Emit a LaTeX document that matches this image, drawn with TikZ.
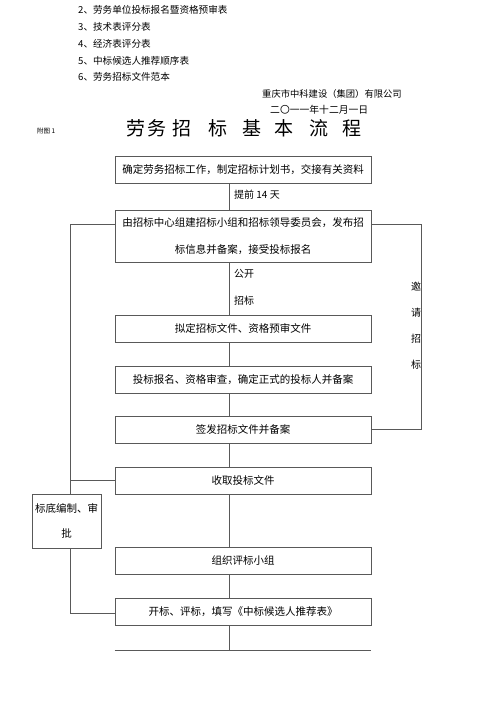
\documentclass[tikz,border=0pt]{standalone}
\usepackage{fontspec}
\setmainfont{Noto Sans CJK SC}
\usetikzlibrary{positioning}

\begin{document}
\begin{tikzpicture}[
  x=1pt, y=-1pt,
  box/.style={draw=black!65, line width=0.8pt, align=center, inner sep=0pt,
    minimum width=256pt, minimum height=27pt, font=\fontsize{10.5}{26.7}\selectfont},
  sidebox/.style={draw=black!65, line width=0.8pt, align=center, inner sep=0pt,
    minimum width=69pt, minimum height=54pt, font=\fontsize{10.5}{25}\selectfont},
  link/.style={draw=black!65, line width=0.8pt},
  note/.style={anchor=west, inner sep=0pt, font=\fontsize{10}{12}\selectfont},
  item/.style={anchor=west, inner sep=0pt, font=\fontsize{9.6}{11}\selectfont}
]
\useasboundingbox (0,0) rectangle (500,706);
% header list
\foreach \n/\txt/\y in {2/劳务单位投标报名暨资格预审表/10, 3/技术表评分表/27,
    4/经济表评分表/44, 5/中标候选人推荐顺序表/61, 6/劳务招标文件范本/77}
  \node[item] (item\n) at (78,\y) {\n、\txt};
\node[item, font=\fontsize{9.3}{11}\selectfont] (company) at (262,94) {重庆市中科建设（集团）有限公司};
\node[item, font=\fontsize{9.8}{11}\selectfont] (date) at (270,110) {二〇一一年十二月一日};
\node[item, font=\fontsize{6.5}{8}\selectfont] (fig) at (37,131) {附图 1};
\node[anchor=west, inner sep=0pt, font=\fontsize{19}{22}\selectfont] (title) at (126,128)
  {劳\hspace{2pt}务\hspace{6pt}招\hspace{17pt}标\hspace{15pt}基\hspace{13pt}本\hspace{16pt}流\hspace{14pt}程};
% main column
\node[box] (b1) at (243,170) {确定劳务招标工作，制定招标计划书，交接有关资料};
\node[box, minimum height=52pt] (b2) at (243,236) {由招标中心组建招标小组和招标领导委员会，发布招\\标信息并备案，接受投标报名};
\node[box] (b3) at (243,328.5) {拟定招标文件、资格预审文件};
\node[box] (b4) at (243,379.5) {投标报名、资格审查，确定正式的投标人并备案};
\node[box] (b5) at (243,429.5) {签发招标文件并备案};
\node[box] (b6) at (243,480.5) {收取投标文件};
\node[box] (b7) at (243,560.5) {组织评标小组};
\node[box] (b8) at (243,611.5) {开标、评标，填写《中标候选人推荐表》};
\node[sidebox] (base) at (66.5,521) {标底编制、审\\批};
\coordinate (spine) at (229.5,0);
\coordinate (lx) at (70,0);
\coordinate (bottom) at (243,650);
\foreach \a/\b in {b1/b2,b2/b3,b3/b4,b4/b5,b5/b6,b6/b7,b7/b8}
  \draw[link] (\a.south -| spine) -- (\b.north -| spine);
\draw[link] (b8.south -| spine) -- (bottom -| spine);
\draw[link] (b8.west |- bottom) -- (b8.east |- bottom);
% side branches
\draw[link] ([yshift=12pt]b2.west) -| (base.north -| lx);
\draw[link] (b6.west) -- (b6.west -| lx);
\draw[link] (base.south -| lx) |- ([yshift=-1.5pt]b8.west);
\draw[link] ([yshift=12pt]b2.east) -- ++(50,0) |- (b5.east);
% labels
\node[note] (early) at (234,195) {提前 14 天};
\node[note] (open1) at (234,274) {公开};
\node[note] (open2) at (234,301) {招标};
\node[inner sep=0pt, align=center, font=\fontsize{10}{26}\selectfont] (invite) at (416,325.5) {邀\\请\\招\\标};
\end{tikzpicture}
\end{document}
